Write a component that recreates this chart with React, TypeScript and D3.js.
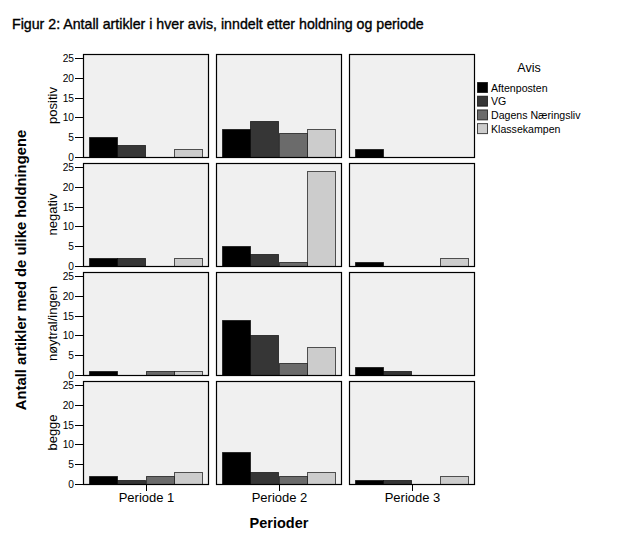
import React from "react";
import * as d3 from "d3";

const periods = ["Periode 1", "Periode 2", "Periode 3"];
const holdninger = ["positiv", "negativ", "nøytral/ingen", "begge"];
const aviser = ["Aftenposten", "VG", "Dagens Næringsliv", "Klassekampen"];
const colors = ["#000000", "#363636", "#6b6b6b", "#cccccc"];
const yTicks = [0, 5, 10, 15, 20, 25];

// values[holdning][periode] = [Aftenposten, VG, DN, Klassekampen]
const positiv = [[5, 3, 0, 2], [7, 9, 6, 7], [2, 0, 0, 0]];
const negativ = [[2, 2, 0, 2], [5, 3, 1, 24], [1, 0, 0, 2]];
const noytral = [[1, 0, 1, 1], [14, 10, 3, 7], [2, 1, 0, 0]];
const begge = [[2, 1, 2, 3], [8, 3, 2, 3], [1, 1, 0, 2]];
const values = [positiv, negativ, noytral, begge];

const FONT = "'Liberation Sans', Arial, sans-serif";

export default function App() {
  const W = 633, H = 535;
  const colScale = d3.scaleBand<string>().domain(periods).range([83, 474]).paddingInner(8 / 133).paddingOuter(0);
  const rowScale = d3.scaleBand<string>().domain(holdninger).range([54, 484]).paddingInner(6 / 109).paddingOuter(0);
  const pw = colScale.bandwidth();
  const ph = rowScale.bandwidth();
  const yLocal = d3.scaleLinear().domain([0, 26]).range([ph, 0]);
  const barScale = d3.scaleBand<string>().domain(aviser).range([6, pw - 6]).padding(0);

  return (
    <svg width={W} height={H} style={{ position: "absolute", left: 0, top: 0 }} fontFamily={FONT}>
      <rect width={W} height={H} fill="#fff" />
      <text x={12} y={29} fontSize={14.2} fill="#000" stroke="#000" strokeWidth={0.35}>
        Figur 2: Antall artikler i hver avis, inndelt etter holdning og periode
      </text>
      {holdninger.map((h, ri) => {
        const py = rowScale(h)!;
        return (
          <g key={h}>
            <text transform={`translate(${57},${py + ph / 2}) rotate(-90)`} textAnchor="middle" fontSize={13} fill="#000">
              {h}
            </text>
            {yTicks.map((t) => (
              <g key={t} transform={`translate(0,${Math.round(py + yLocal(t)) + 0.5})`}>
                <line x1={75} x2={83} stroke="#000" strokeWidth={1} />
                <text x={74} dy="0.35em" textAnchor="end" fontSize={10.2} fill="#000">{t}</text>
              </g>
            ))}
            {periods.map((p, ci) => {
              const px = colScale(p)!;
              return (
                <g key={p} transform={`translate(${Math.round(px) + 0.5},${Math.round(py) + 0.5})`}>
                  <rect width={Math.round(pw)} height={Math.round(ph)} fill="#f0f0f0" stroke="none" />
                  {values[ri][ci].map((v, ai) =>
                    v > 0 ? (
                      <rect
                        key={ai}
                        x={Math.round(barScale(aviser[ai])!)}
                        y={Math.round(yLocal(v))}
                        width={Math.round(barScale.bandwidth())}
                        height={Math.round(ph) - Math.round(yLocal(v))}
                        fill={colors[ai]}
                        stroke="#000"
                        strokeOpacity={0.65}
                        strokeWidth={1}
                      />
                    ) : null
                  )}
                  <rect width={Math.round(pw)} height={Math.round(ph)} fill="none" stroke="#000" strokeWidth={1.2} />
                </g>
              );
            })}
          </g>
        );
      })}
      {periods.map((p) => {
        const cx = Math.round(colScale(p)! + pw / 2) + 0.5;
        return (
          <g key={p}>
            <line x1={cx} x2={cx} y1={484} y2={491} stroke="#000" />
            <text x={cx} y={502} textAnchor="middle" fontSize={13} fill="#000">{p}</text>
          </g>
        );
      })}
      <text x={279} y={528} textAnchor="middle" fontSize={14.5} fontWeight="bold" fill="#000">Perioder</text>
      <text transform={`translate(${26},${270}) rotate(-90)`} textAnchor="middle" fontSize={14.8} fontWeight="bold" fill="#000">
        Antall artikler med de ulike holdningene
      </text>
      <text x={529} y={72} textAnchor="middle" fontSize={12.5} fill="#000">Avis</text>
      {aviser.map((a, i) => (
        <g key={a} transform={`translate(477,${82 + i * 13.7})`}>
          <rect x={0.5} y={0.5} width={10} height={10} fill={colors[i]} stroke="#000" strokeOpacity={0.7} />
          <text x={14} y={9.5} fontSize={10.6} fill="#000">{a}</text>
        </g>
      ))}
    </svg>
  );
}
